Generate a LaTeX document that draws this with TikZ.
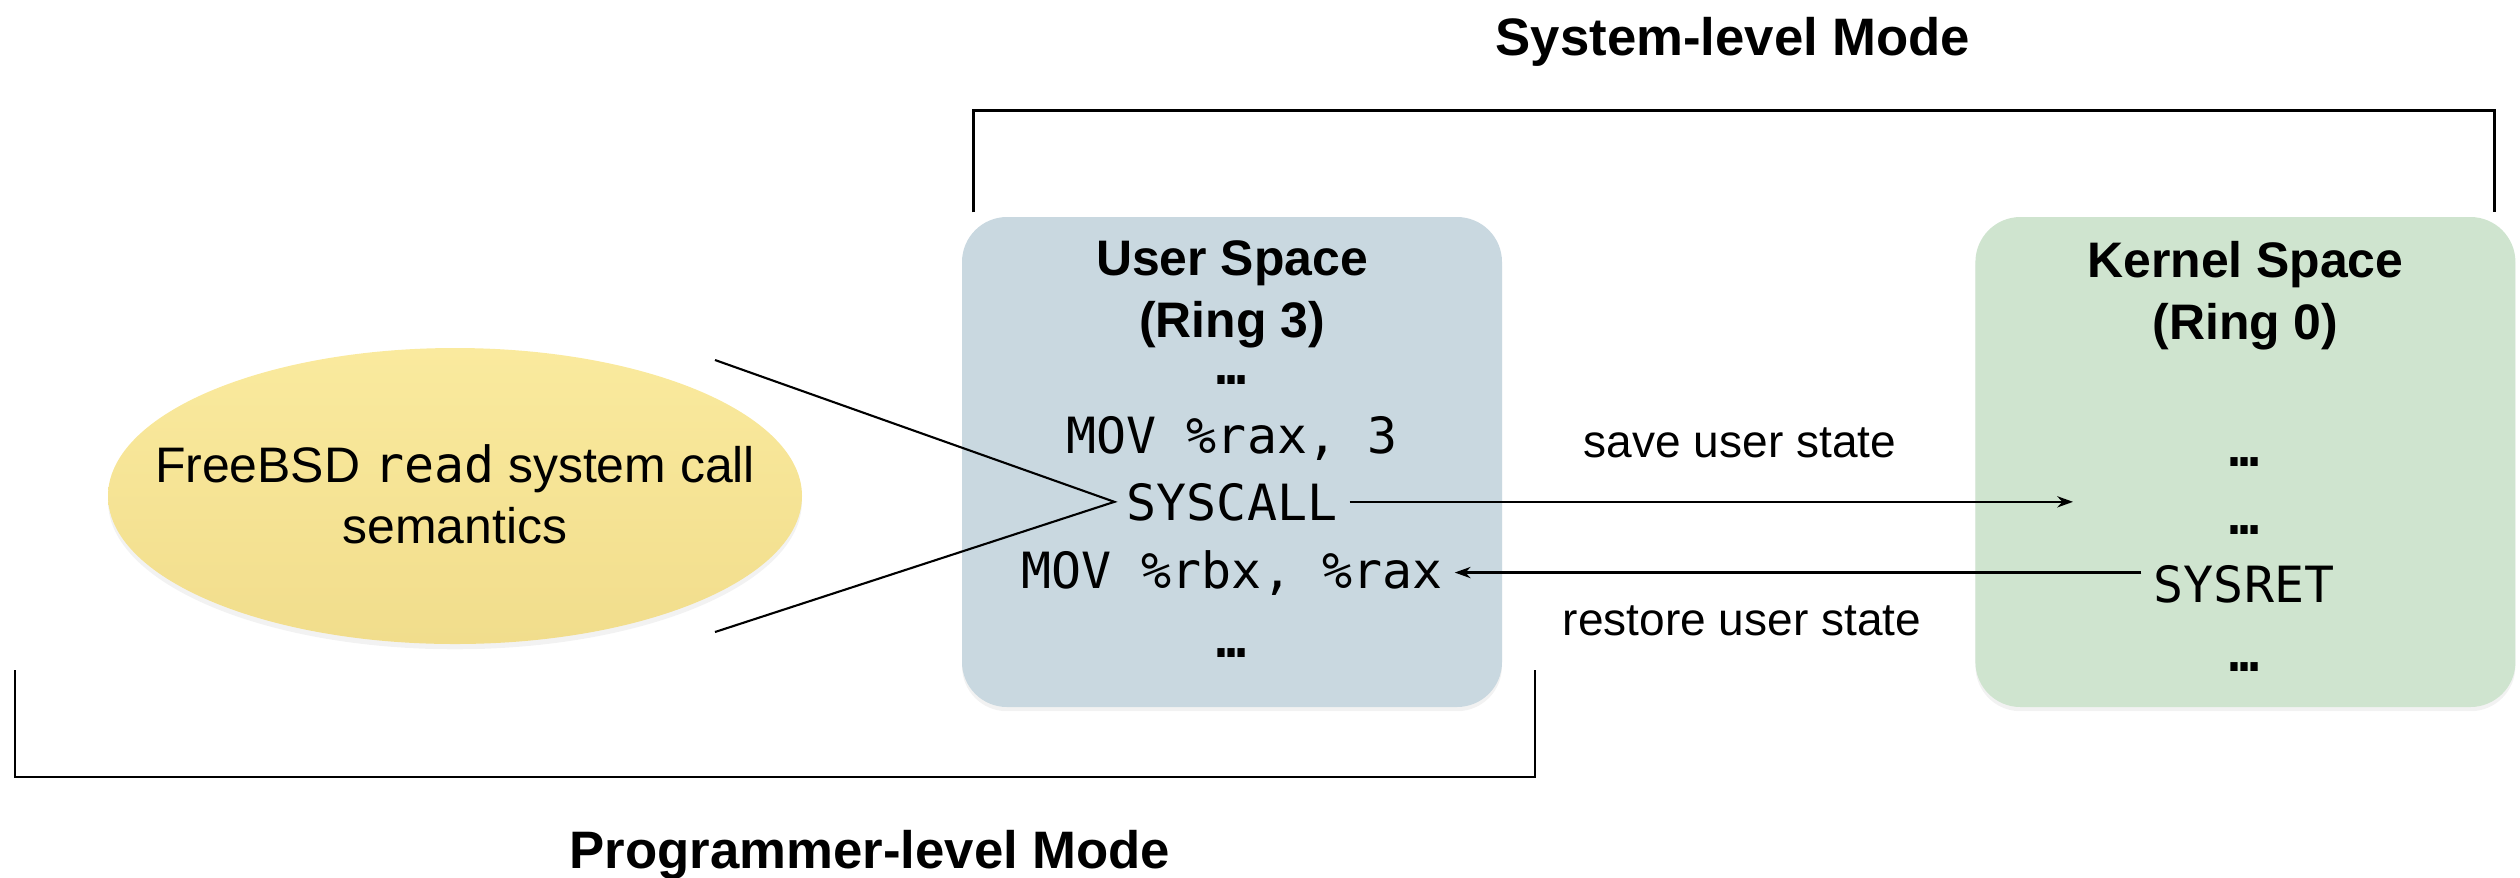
\documentclass[tikz,border=0pt]{standalone}
\usepackage{fontspec}
\setmainfont{Liberation Sans}
\setmonofont{DejaVu Sans Mono}
\usepackage{xcolor}
\definecolor{userblue}{RGB}{201, 216, 224}
\definecolor{kernelgreen}{RGB}{207, 228, 207}
\definecolor{semtop}{RGB}{250, 234, 158}
\definecolor{sembottom}{RGB}{241, 221, 140}
\usepackage{tikz}
\usetikzlibrary{shapes.geometric, arrows.meta, positioning, shadows}

\begin{document}
\begin{tikzpicture}[
    space/.style={
        rectangle, rounded corners=0.45cm, minimum width=5.40cm, minimum height=4.90cm,
        inner sep=0pt, drop shadow={opacity=0.10, shadow xshift=0pt, shadow yshift=-1.2pt}
    },
    sem/.style={
        ellipse, minimum width=6.94cm, minimum height=2.96cm, inner sep=0pt,
        top color=semtop, bottom color=sembottom,
        drop shadow={opacity=0.10, shadow xshift=0pt, shadow yshift=-1.5pt}
    },
    semtext/.style={
        align=center, inner sep=0pt, font=\fontsize{14.2}{17.4}\selectfont
    },
    spacetitle/.style={
        align=center, inner sep=0pt, anchor=north, font=\fontsize{14.2}{17.6}\selectfont\bfseries
    },
    code/.style={
        anchor=base, font=\fontsize{14.2}{17}\selectfont\ttfamily
    },
    dots/.style={
        anchor=base, font=\fontsize{14.2}{17}\selectfont\ttfamily\bfseries
    },
    mode/.style={
        anchor=base, font=\fontsize{15}{18}\selectfont\bfseries
    },
    flowlabel/.style={
        anchor=base, font=\fontsize{13.1}{16}\selectfont
    },
    flow/.style={
        -{Stealth[length=4.5pt, width=3.2pt]}, line width=0.6pt
    },
    bracket/.style={line width=0.8pt},
    callout/.style={line width=0.6pt}
]
\useasboundingbox (0,0) rectangle (25.2,-8.77);

% User Space (Center)
\node[space, fill=userblue] (user) at (12.32,-4.62) {};
\node[spacetitle] (usertitle) at ([yshift=-0.24cm]user.north) {User Space\\(Ring 3)};
\node[dots] (udots1) at (12.32,-3.84) {…};
\node[code] (movrax) at (12.32,-4.53) {MOV \%rax, 3};
\node[code] (syscall) at (12.32,-5.20) {SYSCALL};
\node[code] (movrbx) at (12.32,-5.88) {MOV \%rbx, \%rax};
\node[dots] (udots2) at (12.32,-6.57) {…};

% Kernel Space (Right)
\node[space, fill=kernelgreen, right=4.72cm of user] (kernel) {};
\node[spacetitle] (kerneltitle) at ([yshift=-0.24cm]kernel.north) {Kernel Space\\(Ring 0)};
\node[dots] (kdots1) at (22.44,-4.66) {…};
\node[dots] (kdots2) at (22.44,-5.34) {…};
\node[code] (sysret) at (22.44,-6.02) {SYSRET};
\node[dots] (kdots3) at (22.44,-6.71) {…};

% Semantics (Left)
\node[sem] (sem) at (4.55,-4.96) {};
\node[semtext] (semtext) at ([yshift=0.02cm]sem.center) {FreeBSD \texttt{read} system call\\semantics};

% Modes
\node[mode] (sysmode) at (17.33,-0.55) {System-level Mode};
\node[mode] (progmode) at (8.70,-8.68) {Programmer-level Mode};

% Transitions
\node[flowlabel] (save) at (17.40,-4.57) {save user state};
\node[flowlabel] (restore) at (17.42,-6.35) {restore user state};
\coordinate (kin) at (20.73,-4.97);
\draw[flow] (syscall.east) -- (syscall.east -| kin);
\draw[flow] (movrbx.east -| sysret.west) -- (movrbx.east);

% Callout and brackets
\coordinate (calltop) at (7.15,-3.60);
\coordinate (callbot) at (7.15,-6.32);
\draw[callout] (calltop) -- (syscall.west) -- (callbot);
\draw[bracket] ([xshift=0.12cm,yshift=0.04cm]user.north west) -- ++(0,1.02) -| ([xshift=-0.22cm,yshift=0.04cm]kernel.north east);
\draw[bracket] (0.15,-6.70) |- (15.35,-7.77) -- (15.35,-6.70);

\end{tikzpicture}
\end{document}
